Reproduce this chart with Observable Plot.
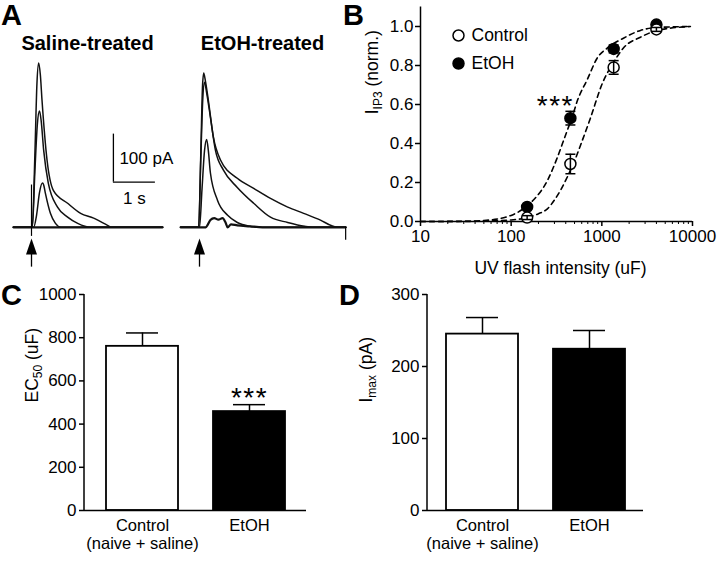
<!DOCTYPE html>
<html>
<head>
<meta charset="utf-8">
<script src="https://cdn.jsdelivr.net/npm/d3@7"></script>
<script src="https://cdn.jsdelivr.net/npm/@observablehq/plot@0.6"></script>
<style>
  body { margin: 0; background: #fff; }
  #fig { position: relative; width: 720px; height: 561px; overflow: hidden; background: #fff;
         font-family: "Liberation Sans", Arial, sans-serif; color: #000; }
  #fig svg { position: absolute; }
  .lbl { position: absolute; font-weight: bold; font-size: 29px; line-height: 1; }
</style>
</head>
<body>
<div id="fig"></div>
<script>
// ---------------- DATA ----------------
// Panel A: example current traces, [time (s) from flash, current (pA)]
const salineTraces = [
  [[-0.43,0],[0.02,0],[0.08,150],[0.13,300],[0.17,342],[0.21,318],[0.25,265],[0.37,140],[0.52,77],[0.86,50],[1.17,29],[1.48,19],[1.81,4],[1.9,0],[3.12,0]],
  [[-0.43,0],[0.02,0],[0.08,115],[0.14,215],[0.19,242],[0.23,222],[0.29,160],[0.40,92],[0.62,42],[0.86,21],[1.10,8],[1.4,0],[3.12,0]],
  [[-0.43,0],[0.05,0],[0.12,25],[0.19,72],[0.26,92],[0.29,88],[0.33,71],[0.45,29],[0.57,8],[0.7,0],[3.12,0]],
  [[-0.43,0],[3.12,0]]
];
const etohTraces = [
  [[-0.45,0],[-0.02,0],[0.03,150],[0.07,290],[0.10,321],[0.14,305],[0.21,265],[0.33,188],[0.50,140],[0.90,102],[1.29,81],[1.69,60],[2.10,42],[2.48,29],[2.88,15],[3.15,3],[3.3,0],[3.48,0]],
  [[-0.45,0],[-0.02,0],[0.03,140],[0.08,270],[0.12,302],[0.17,280],[0.26,229],[0.38,160],[0.57,119],[0.90,83],[1.29,50],[1.69,21],[2.10,10],[2.5,2],[2.7,0],[3.48,0]],
  [[-0.45,0],[0.0,0],[0.06,80],[0.12,160],[0.17,183],[0.21,160],[0.26,113],[0.43,56],[0.67,25],[0.90,10],[1.2,2],[1.4,0],[3.48,0]],
  [[-0.45,0],[0.15,0],[0.2,6],[0.26,15],[0.35,19],[0.45,16],[0.55,19],[0.62,10],[0.67,0],[0.75,6],[0.9,4],[1.2,2],[1.5,0],[3.48,0]]
];
const panelTitles = ["Saline-treated", "EtOH-treated"];
const flashTimes = [0];
const salineArtifacts = [[0, -19, 88]];     // [t, pA from, pA to]
const etohArtifacts = [[3.48, -27, 0]];
const scalePA = 100, scaleS = 1;

// Panel B: dose-response
const flashB = [150, 450, 1350, 4000];
const controlMean = [0.02, 0.295, 0.79, 0.985];
const controlSem = [0.01, 0.05, 0.035, 0.01];
const etohMean = [0.075, 0.53, 0.885, 1.01];
const etohSem = [0.01, 0.035, 0.02, 0.01];
const controlFitX = [10, 20, 50, 100, 150, 200, 251, 300, 350, 418, 500, 581, 748, 1016, 1343, 1730, 2666, 4100, 9480];
const controlFitY = [0, 0, 0.002, 0.008, 0.02, 0.04, 0.065, 0.11, 0.16, 0.23, 0.31, 0.39, 0.53, 0.71, 0.815, 0.89, 0.945, 0.98, 1.0];
const etohFitX = [10, 30, 50, 98, 150, 176, 251, 324, 368, 418, 474, 538, 694, 894, 1153, 1730, 2666, 4100, 9480];
const etohFitY = [0, 0.001, 0.005, 0.03, 0.08, 0.11, 0.21, 0.33, 0.40, 0.47, 0.54, 0.62, 0.73, 0.84, 0.89, 0.94, 0.98, 0.995, 1.0];
const legendB = ["Control", "EtOH"];
const yTicksB = [0, 0.2, 0.4, 0.6, 0.8, 1.0];
const xTicksB = [10, 100, 1000, 10000];
const xMinorB = [20,30,40,50,60,70,80,90,200,300,400,500,600,700,800,900,2000,3000,4000,5000,6000,7000,8000,9000];

// Panels C, D: bar charts
const groups = ["Control", "EtOH"];
const groupLabels = ["Control\n(naive + saline)", "EtOH"];
const ec50Mean = [760, 458];
const ec50Sem = [62, 32];
const imaxMean = [245, 224];
const imaxSem = [23, 26];
const ticksC = [0, 200, 400, 600, 800, 1000];
const ticksD = [0, 100, 200, 300];

// ---------------- HELPERS ----------------
const fig = document.getElementById("fig");
const FONT = '"Liberation Sans", Arial, sans-serif';
const base = {style: {fontFamily: FONT, fontSize: "17px", background: "transparent", color: "black", overflow: "visible"}};
function place(svg, left, top) { svg.style.left = left + "px"; svg.style.top = top + "px"; fig.appendChild(svg); return svg; }
function letter(ch, left, top) { const d = document.createElement("div"); d.className = "lbl"; d.textContent = ch; d.style.left = left + "px"; d.style.top = top + "px"; fig.appendChild(d); }
const ns = "http://www.w3.org/2000/svg";
function subscript(svg, placeholder, main, sub, rest) {
  svg.querySelectorAll("text").forEach(t => {
    if (t.textContent !== placeholder) return;
    t.textContent = "";
    const a = document.createElementNS(ns, "tspan"); a.textContent = main;
    const b = document.createElementNS(ns, "tspan"); b.textContent = sub; b.setAttribute("font-size", "12px"); b.setAttribute("dy", "4");
    const c = document.createElementNS(ns, "tspan"); c.textContent = rest; c.setAttribute("dy", "-4");
    t.append(a, b, c);
  });
}
function spaceStars(svg) {
  svg.querySelectorAll("text").forEach(t => { if (t.textContent === "***") t.setAttribute("letter-spacing", "1.5"); });
}
function yAxisLine(svg, left, top, bottom) {
  d3.select(svg).append("line").attr("x1", left).attr("x2", left).attr("y1", top).attr("y2", bottom)
    .attr("stroke", "black").attr("stroke-width", 1.5);
}
const arrowHead = {draw(ctx) { ctx.moveTo(0, -8); ctx.lineTo(5.5, 8); ctx.lineTo(-5.5, 8); ctx.closePath(); }};
const hline = {draw(ctx, size) { const r = Math.sqrt(size / Math.PI); ctx.moveTo(-r, 0); ctx.lineTo(r, 0); }};

// ---------------- PANEL A ----------------
function tracesPlot(traces, title, titleDx, artifacts, withScale) {
  const marks = traces.map((tr, i) => Plot.line(tr, {x: d => d[0], y: d => d[1], curve: "monotone-x", stroke: "#111",
    strokeWidth: i === traces.length - 1 ? 2.2 : 1.5}));
  marks.push(Plot.ruleX(artifacts, {x: d => d[0], y1: d => d[1], y2: d => d[2], stroke: "black", strokeWidth: 1.2}));
  marks.push(Plot.ruleX(flashTimes, {x: d => d, y1: -83, y2: -55, stroke: "black", strokeWidth: 1.3}));
  marks.push(Plot.dot(flashTimes, {x: d => d, y: -40, symbol: arrowHead, fill: "black", r: 5}));
  marks.push(Plot.text([title], {frameAnchor: "top", dx: titleDx, dy: -8, lineAnchor: "middle", fontSize: 20, fontWeight: "bold"}));
  if (withScale) {
    const t0 = 1.95, y0 = 94;
    marks.push(Plot.ruleX([t0], {x: d => d, y1: y0, y2: y0 + scalePA, stroke: "black", strokeWidth: 1.3}));
    marks.push(Plot.ruleY([y0], {y: d => d, x1: t0, x2: t0 + scaleS, stroke: "black", strokeWidth: 1.3}));
    marks.push(Plot.text([`${scalePA} pA`], {x: t0, y: y0 + scalePA / 2, dx: 6, textAnchor: "start", lineAnchor: "middle", fontSize: 17}));
    marks.push(Plot.text([`${scaleS} s`], {x: t0 + scaleS / 2, y: y0, dy: 16, lineAnchor: "middle", fontSize: 17}));
  }
  return Plot.plot({...base, width: 180, height: 280, marginLeft: 10, marginRight: 2, marginTop: 51, marginBottom: 10,
    x: {domain: [-0.5, 3.5], axis: null}, y: {domain: [-90, 366], axis: null}, marks});
}
place(tracesPlot(salineTraces, panelTitles[0], -7, salineArtifacts, true), 0, 0);
place(tracesPlot(etohTraces, panelTitles[1], 0, etohArtifacts, false), 168, 0);

// ---------------- PANEL B ----------------
const ptsControl = flashB.map((x, i) => ({x, m: controlMean[i], e: controlSem[i]}));
const ptsEtoh = flashB.map((x, i) => ({x, m: etohMean[i], e: etohSem[i]}));
function errMarks(pts) {
  return [
    Plot.ruleX(pts, {x: "x", y1: d => d.m - d.e, y2: d => d.m + d.e, stroke: "black", strokeWidth: 1.5}),
    Plot.dot(pts, {x: "x", y: d => d.m + d.e, symbol: hline, r: 5, stroke: "black", strokeWidth: 1.5}),
    Plot.dot(pts, {x: "x", y: d => d.m - d.e, symbol: hline, r: 5, stroke: "black", strokeWidth: 1.5})
  ];
}
const panelB = Plot.plot({...base, width: 360, height: 290, marginLeft: 60, marginRight: 28, marginTop: 6.5, marginBottom: 69,
  x: {type: "log", domain: [10, 10000]},
  y: {domain: [0, 1.1]},
  marks: [
    Plot.line(controlFitY, {x: controlFitX, y: controlFitY, curve: "monotone-x", stroke: "black", strokeDasharray: "5,4", strokeWidth: 1.6}),
    Plot.line(etohFitY, {x: etohFitX, y: etohFitY, curve: "monotone-x", stroke: "black", strokeDasharray: "5,4", strokeWidth: 1.6}),
    Plot.ruleY([0], {y: d => d, x1: 10, x2: 10000, stroke: "black", strokeWidth: 1.5}),
    Plot.ruleX([10], {x: d => d, y1: 0, y2: 1.1, stroke: "black", strokeWidth: 1.5}),
    Plot.axisY({ticks: yTicksB, tickSize: 5, tickPadding: 2, tickFormat: d3.format(".1f"), label: null, strokeWidth: 1.5, fontSize: 17}),
    Plot.axisX({ticks: xTicksB, tickSize: 5, tickPadding: 3, tickFormat: d => String(d), label: null, strokeWidth: 1.5, fontSize: 17}),
    Plot.axisX({ticks: xMinorB, tickSize: 3, tickPadding: 0, tickFormat: () => "", label: null, strokeWidth: 1}),
    ...errMarks(ptsEtoh),
    Plot.dot(ptsEtoh, {x: "x", y: "m", r: 5.5, fill: "black", stroke: "black", strokeWidth: 1.5}),
    Plot.dot(ptsControl, {x: "x", y: "m", r: 5.5, fill: "white", stroke: "black", strokeWidth: 1.5}),
    ...errMarks(ptsControl),
    ...legendB.flatMap((lab, i) => [
      Plot.dot([lab], {frameAnchor: "top-left", dx: 38, dy: 28.5 + i * 28, r: 5.5, fill: i ? "black" : "white", stroke: "black", strokeWidth: 1.5}),
      Plot.text([lab], {frameAnchor: "top-left", dx: 51, dy: 28.5 + i * 28, textAnchor: "start", lineAnchor: "middle", fontSize: 17.5})
    ]),
    Plot.text(["***"], {x: flashB[1], y: etohMean[1], dx: -15, dy: -3, lineAnchor: "bottom", fontSize: 28}),
    Plot.text(["UV flash intensity (uF)"], {frameAnchor: "bottom", dx: 4, dy: 47, lineAnchor: "middle", fontSize: 17.5}),
    Plot.text(["I_IP3 (norm.)"], {frameAnchor: "left", dx: -48, rotate: -90, lineAnchor: "middle", fontSize: 17.5})
  ]
});
subscript(panelB, "I_IP3 (norm.)", "I", "IP3", " (norm.)");
spaceStars(panelB);
place(panelB, 360, 0);

// ---------------- PANELS C, D ----------------
function barPanel(mean, sem, ticks, yMax, ml, mr, po, labelPh, labelDx, stars) {
  const rows = groups.map((g, i) => ({g, m: mean[i], e: sem[i]}));
  const marks = [
    Plot.barY(rows, {x: "g", y: "m", fill: "g", stroke: "black", strokeWidth: 1.8}),
    Plot.ruleX(rows, {x: "g", y1: "m", y2: d => d.m + d.e, stroke: "black", strokeWidth: 1.5}),
    Plot.tickY(rows, {x: "g", y: d => d.m + d.e, insetLeft: 20, insetRight: 20, stroke: "black", strokeWidth: 1.5}),
    Plot.ruleY([0], {y: d => d, stroke: "black", strokeWidth: 1.5}),
    Plot.axisY({ticks, tickSize: 5, tickPadding: 3, tickFormat: d => String(d), label: null, strokeWidth: 1.5, fontSize: 17}),
    Plot.axisX({tickSize: 0, tickPadding: 8, tickFormat: d => groupLabels[groups.indexOf(d)], label: null, fontSize: 16.5, lineHeight: 1.08}),
    Plot.text([labelPh], {frameAnchor: "left", dx: labelDx, rotate: -90, lineAnchor: "middle", fontSize: 17.5})
  ];
  if (stars) marks.push(Plot.text([groups[1]], {x: d => d, y: mean[1] + sem[1], text: () => "***", dy: 2, lineAnchor: "bottom", fontSize: 28}));
  return Plot.plot({...base, width: 360, height: 281, marginLeft: ml, marginRight: mr, marginTop: 14, marginBottom: 51,
    x: {domain: groups, paddingInner: 0.33, paddingOuter: po},
    y: {domain: [0, yMax]},
    color: {domain: groups, range: ["white", "black"]},
    marks});
}
const panelC = barPanel(ec50Mean, ec50Sem, ticksC, 1000, 84, 54, 0.2, "EC_50 (uF)", -52, true);
subscript(panelC, "EC_50 (uF)", "EC", "50", " (uF)");
spaceStars(panelC);
yAxisLine(panelC, 84, 14, 230);
place(panelC, 0, 280);

const panelD = barPanel(imaxMean, imaxSem, ticksD, 300, 67, 77, 0.17, "I_max (pA)", -61, false);
subscript(panelD, "I_max (pA)", "I", "max", " (pA)");
yAxisLine(panelD, 67, 14, 230);
place(panelD, 360, 280);

// panel letters
letter("A", 1, 1);
letter("B", 343, 1);
letter("C", 1, 281);
letter("D", 339, 281);
</script>
</body>
</html>
